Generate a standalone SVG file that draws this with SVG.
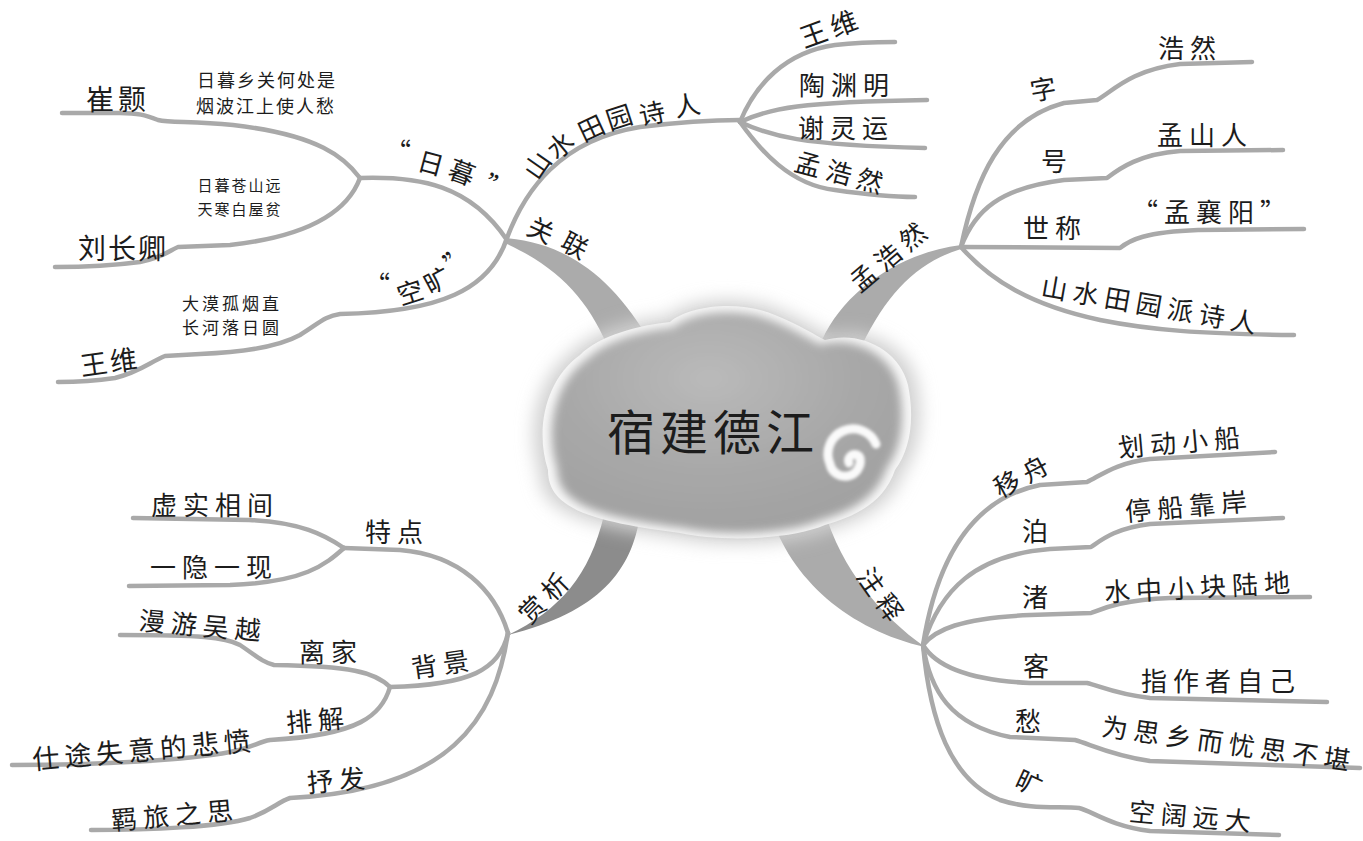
<svg xmlns="http://www.w3.org/2000/svg" width="1363" height="841" viewBox="0 0 1363 841">
<defs>
<style>
.ln{fill:none;stroke:#a9a9a9;stroke-width:4.5;stroke-linecap:round;stroke-linejoin:round}
.br{fill:#ababab}
.t{font-family:"Noto Sans CJK SC","Noto Sans CJK JP",sans-serif;fill:#1c1c1c;text-anchor:middle}
.m{font-size:26px;letter-spacing:6px}
.p{font-size:18px;letter-spacing:2px}
.ps{font-size:15px;letter-spacing:2px}
</style>
<radialGradient id="cg" cx="0.45" cy="0.3" r="0.75">
<stop offset="0" stop-color="#bababa"/>
<stop offset="0.55" stop-color="#a8a8a8"/>
<stop offset="1" stop-color="#a0a0a0"/>
</radialGradient>
<filter id="b6" x="-20%" y="-20%" width="140%" height="140%"><feGaussianBlur stdDeviation="5"/></filter>
<filter id="b8" x="-20%" y="-20%" width="140%" height="140%"><feGaussianBlur stdDeviation="8"/></filter>
<filter id="b2" x="-30%" y="-30%" width="160%" height="160%"><feGaussianBlur stdDeviation="1.8"/></filter>
<path id="cloud" d="M548,470 C535,430 545,380 580,355 C600,335 640,325 670,322 C690,305 740,300 775,315 C800,325 815,335 825,340 C860,330 900,350 908,385 C915,420 910,450 895,470 C885,500 860,515 825,525 C790,540 720,542 680,533 C640,528 590,520 568,505 C552,495 548,482 548,470 Z"/>
</defs>
<rect width="1363" height="841" fill="#ffffff"/>

<g id="connectors">
<path class="br" d="M505,238 C565,243 612,275 652,345 L610,352 C590,302 560,268 505,243 Z"/>
<path class="br" d="M822,340 C845,290 900,253 961,245 L961,249 C918,262 888,292 862,345 Z"/>
<path d="M640,515 C632,570 600,612 508,635 C560,610 590,575 604,515 Z" fill="#8c8c8c"/>
<path class="br" d="M770,512 C790,580 850,630 925,647 C880,615 842,570 824,510 Z"/>

<path class="ln" d="M360,178 C345,158 320,135 233,125 C190,121 170,123 158,120 C145,115 138,113 120,113 L62,113"/>
<path class="ln" d="M360,178 C350,205 320,235 230,245 L178,247 C170,250 165,257 140,262 C110,266 80,267 55,267"/>
<path class="ln" d="M360,178 C420,176 470,185 507,240"/>
<path class="ln" d="M507,238 C490,290 440,312 340,314 C325,316 318,324 300,335 C280,346 250,352 200,354 L165,356 C150,362 140,372 115,378 C95,381 80,382 58,382"/>
<path class="ln" d="M507,238 C525,190 560,140 640,127 C680,122 710,120 740,120"/>

<path class="ln" d="M740,122 C755,85 785,52 835,45 C860,42 880,42 895,42"/>
<path class="ln" d="M740,122 C770,108 800,102 927,100"/>
<path class="ln" d="M740,122 C770,136 800,145 925,148"/>
<path class="ln" d="M740,122 C760,150 790,185 835,190 C870,195 890,197 915,197"/>

<path class="ln" d="M961,247 C975,180 1000,120 1064,103 L1097,100 C1112,92 1130,70 1180,64 L1252,62"/>
<path class="ln" d="M961,247 C975,210 1000,188 1064,180 L1107,178 C1120,168 1140,154 1180,151 L1283,150"/>
<path class="ln" d="M961,247 L1120,248 C1130,240 1145,232 1198,230 L1304,229"/>
<path class="ln" d="M961,247 C990,280 1030,305 1100,320 C1150,330 1200,334 1294,335"/>

<path class="ln" d="M508,633 C495,590 460,555 400,550 L344,548"/>
<path class="ln" d="M344,548 C325,535 300,522 249,520 L133,518"/>
<path class="ln" d="M344,548 C325,565 305,582 230,585 L129,586"/>
<path class="ln" d="M508,633 C500,670 470,685 390,687"/>
<path class="ln" d="M390,687 C375,672 350,666 274,665 C262,662 255,655 240,645 C225,637 200,635 120,635"/>
<path class="ln" d="M390,687 C382,715 360,735 270,740 C258,742 252,748 230,752 C190,760 100,765 12,765"/>
<path class="ln" d="M508,633 C495,720 450,790 290,798 C278,802 272,810 250,818 C220,827 150,830 91,830"/>

<path class="ln" d="M923,645 C935,570 965,500 1040,485 L1087,482 C1100,476 1115,463 1150,459 L1275,452"/>
<path class="ln" d="M923,645 C940,590 975,555 1050,549 L1091,547 C1100,541 1115,528 1150,524 L1283,518"/>
<path class="ln" d="M923,645 C935,630 960,618 1030,615 L1091,613 C1102,609 1120,600 1170,598 L1310,597"/>
<path class="ln" d="M923,645 C935,665 965,680 1030,683 L1087,683 C1100,686 1115,694 1150,698 L1327,702"/>
<path class="ln" d="M923,645 C930,690 950,725 1010,737 L1075,740 C1090,744 1110,755 1150,761 L1360,768"/>
<path class="ln" d="M923,645 C930,720 950,780 1000,800 C1030,810 1060,806 1079,808 C1092,811 1110,826 1150,831 L1279,835"/>
</g>

<g id="center">
<use href="#cloud" fill="#d2d2d2" filter="url(#b8)" transform="translate(727,430) scale(1.05) translate(-727,-430)"/>
<use href="#cloud" fill="#f7f7f7"/>
<use href="#cloud" fill="url(#cg)" filter="url(#b6)" transform="translate(727,430) scale(0.95) translate(-727,-430)"/>
<path d="M849,463 A6,6 0 1 1 860,458 A15,15 0 1 1 830,464 A24,24 0 0 1 876,444" fill="none" stroke="#fafafa" stroke-width="9" stroke-linecap="round" filter="url(#b2)"/>
<text class="t" x="713" y="450" font-size="48" letter-spacing="5">宿建德江</text>
</g>

<g id="n-cuihao"><text class="t" x="118" y="110" font-size="28" letter-spacing="4">崔颢</text></g>
<g id="n-poem1"><text class="t p" x="267" y="87">日暮乡关何处是</text><text class="t p" x="266" y="113">烟波江上使人愁</text></g>
<g id="n-poem2"><text class="t ps" x="240" y="191">日暮苍山远</text><text class="t ps" x="240" y="215">天寒白屋贫</text></g>
<g id="n-liu"><text class="t" x="123" y="259" font-size="28" letter-spacing="2">刘长卿</text></g>
<g id="n-poem3"><text class="t" x="232" y="310" font-size="17" letter-spacing="3">大漠孤烟直</text><text class="t" x="232" y="334" font-size="17" letter-spacing="3">长河落日圆</text></g>
<g id="n-wangwei1"><text class="t" x="110" y="372" font-size="27" letter-spacing="3" transform="rotate(-8 110 362)">王维</text></g>

<g id="n-rimu" class="t" font-size="26">
<text x="398" y="162">“</text>
<text x="431" y="173" transform="rotate(15 431 163)">日</text>
<text x="462" y="182" transform="rotate(20 462 172)">暮</text>
<text x="497" y="198" transform="rotate(25 497 188)">”</text>
</g>
<g id="n-kuang" class="t" font-size="26">
<text x="377" y="295">“</text>
<text x="410" y="302" transform="rotate(-18 410 292)">空</text>
<text x="437" y="290" transform="rotate(-28 437 280)">旷</text>
<text x="458" y="268" transform="rotate(-40 458 258)">”</text>
</g>
<g id="n-guanlian" class="t" font-size="26">
<text x="541" y="240" transform="rotate(25 541 230)">关</text>
<text x="575" y="255" transform="rotate(28 575 245)">联</text>
</g>
<g id="n-shanshui" class="t" font-size="26">
<text x="537" y="175" transform="rotate(-55 537 165)">山</text>
<text x="560" y="155" transform="rotate(-40 560 145)">水</text>
<text x="591" y="138" transform="rotate(-25 591 128)">田</text>
<text x="619" y="127" transform="rotate(-18 619 117)">园</text>
<text x="652" y="123" transform="rotate(-12 652 113)">诗</text>
<text x="687" y="115" transform="rotate(-10 687 105)">人</text>
</g>

<g id="n-wangwei2"><text class="t" x="831" y="38" font-size="27" letter-spacing="5" transform="rotate(-20 831 28)">王维</text></g>
<g id="n-tao"><text class="t m" x="847" y="95">陶渊明</text></g>
<g id="n-xie"><text class="t m" x="846" y="138">谢灵运</text></g>
<g id="n-meng1"><text class="t m" x="842" y="183" transform="rotate(15 842 173)">孟浩然</text></g>

<g id="n-meng2"><text class="t m" x="890" y="265" transform="rotate(-40 890 255)">孟浩然</text></g>
<g id="n-zi"><text class="t m" x="1046" y="99" transform="rotate(-10 1043 89)">字</text></g>
<g id="n-haoran"><text class="t m" x="1190" y="58" letter-spacing="8">浩然</text></g>
<g id="n-hao"><text class="t m" x="1057" y="171">号</text></g>
<g id="n-mengshan"><text class="t m" x="1205" y="145">孟山人</text></g>
<g id="n-shicheng"><text class="t m" x="1055" y="238">世称</text></g>
<g id="n-xiangyang"><text class="t m" x="1212" y="222" letter-spacing="4">“孟襄阳”</text></g>
<g id="n-pai"><text class="t m" x="1152" y="315" transform="rotate(10 1152 305)">山水田园派诗人</text></g>

<g id="n-shangxi"><text class="t m" x="546" y="607" letter-spacing="4" transform="rotate(-45 544 597)">赏析</text></g>
<g id="n-tedian"><text class="t m" x="397" y="542">特点</text></g>
<g id="n-xushi"><text class="t m" x="215" y="515">虚实相间</text></g>
<g id="n-yiyin"><text class="t m" x="214" y="577">一隐一现</text></g>
<g id="n-beijing"><text class="t m" x="443" y="674" transform="rotate(-8 440 664)">背景</text></g>
<g id="n-lijia"><text class="t m" x="331" y="662">离家</text></g>
<g id="n-manyou"><text class="t m" x="203" y="635" transform="rotate(5 200 625)">漫游吴越</text></g>
<g id="n-paijie"><text class="t m" x="318" y="730" transform="rotate(-5 315 720)">排解</text></g>
<g id="n-shitu"><text class="t" x="144" y="760" font-size="27" letter-spacing="5" transform="rotate(-5 142 750)">仕途失意的悲愤</text></g>
<g id="n-shufa"><text class="t m" x="339" y="790" transform="rotate(-5 336 780)">抒发</text></g>
<g id="n-jilv"><text class="t m" x="175" y="825" transform="rotate(-5 172 815)">羁旅之思</text></g>

<g id="n-zhushi"><text class="t m" x="883" y="605" letter-spacing="4" transform="rotate(55 881 595)">注释</text></g>
<g id="n-yizhou"><text class="t m" x="1024" y="486" transform="rotate(-28 1021 476)">移舟</text></g>
<g id="n-huadong"><text class="t m" x="1182" y="452" transform="rotate(-5 1179 442)">划动小船</text></g>
<g id="n-bo"><text class="t m" x="1038" y="541">泊</text></g>
<g id="n-tingchuan"><text class="t m" x="1189" y="516" transform="rotate(-5 1186 506)">停船靠岸</text></g>
<g id="n-zhu"><text class="t m" x="1038" y="607">渚</text></g>
<g id="n-shuizhong"><text class="t m" x="1200" y="597" letter-spacing="7" transform="rotate(-3 1197 587)">水中小块陆地</text></g>
<g id="n-ke"><text class="t m" x="1039" y="676">客</text></g>
<g id="n-zhizuo"><text class="t m" x="1221" y="691">指作者自己</text></g>
<g id="n-chou"><text class="t m" x="1031" y="731">愁</text></g>
<g id="n-weisi"><text class="t m" x="1229" y="753" transform="rotate(8 1226 743)">为思乡而忧思不堪</text></g>
<g id="n-kuang2"><text class="t m" x="1032" y="794" transform="rotate(25 1032 784)">旷</text></g>
<g id="n-kongkuo"><text class="t m" x="1193" y="826" transform="rotate(5 1190 816)">空阔远大</text></g>
</svg>
